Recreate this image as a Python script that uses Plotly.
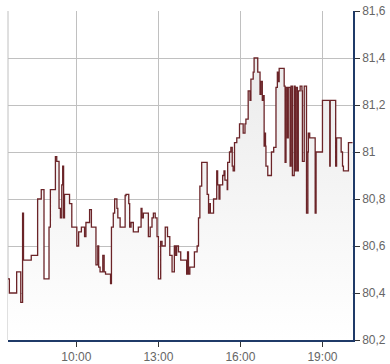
import plotly.graph_objects as go

day = "2024-01-02 "

times = ["07:30","07:33","07:49","07:58","08:02","08:04","08:21","08:35","08:43","08:49",
         "09:00","09:03","09:14","09:17","09:22","09:25","09:28","09:30","09:32","09:34",
         "09:45","09:50","10:01","10:05","10:11","10:18","10:21","10:29","10:33","10:43",
         "10:47","10:49","10:52","10:58","11:01","11:04","11:15","11:17","11:21","11:24",
         "11:29","11:31","11:36","11:47","11:49","11:55","11:57","12:00","12:05","12:16",
         "12:22","12:24","12:27","12:38","12:42","12:46","12:49","12:53","12:57","13:00",
         "13:05","13:08","13:15","13:20","13:25","13:30","13:35","13:38","13:40","13:44",
         "13:49","14:02","14:04","14:06","14:09","14:19","14:25","14:28","14:31","14:35",
         "14:47","14:50","14:53","14:54","15:01","15:08","15:10","15:13","15:15","15:21",
         "15:24","15:26","15:31","15:32","15:36","15:39","15:42","15:44","15:47","15:52",
         "15:58","16:06","16:10","16:12","16:17","16:21","16:23","16:28","16:30","16:38",
         "16:43","16:45","16:48","16:50","16:52","16:53","16:55","16:56","17:00","17:08",
         "17:13","17:18","17:21","17:23","17:25","17:36","17:38","17:40","17:43","17:45",
         "17:49","17:51","17:54","17:58","18:00","18:02","18:05","18:07","18:11","18:15",
         "18:16","18:20","18:25","18:28","18:29","18:32","18:44","18:46","19:00","19:16",
         "19:17","19:29","19:31","19:41","19:44","19:46","19:57","20:06"]

prices = [80.46,80.40,80.49,80.36,80.74,80.54,80.56,80.80,80.84,80.46,
          80.68,80.84,80.98,80.96,80.76,80.72,80.86,80.94,80.72,80.82,
          80.78,80.68,80.60,80.66,80.68,80.64,80.70,80.755,80.68,80.52,
          80.60,80.51,80.49,80.56,80.49,80.48,80.44,80.68,80.74,80.80,
          80.76,80.72,80.68,80.815,80.82,80.78,80.68,80.70,80.66,80.68,
          80.76,80.72,80.74,80.64,80.68,80.72,80.74,80.72,80.64,80.46,
          80.62,80.60,80.68,80.64,80.56,80.49,80.60,80.56,80.60,80.575,
          80.54,80.48,80.575,80.48,80.51,80.575,80.60,80.72,80.855,80.956,
          80.82,80.74,80.78,80.74,80.80,80.92,80.86,80.80,80.86,80.90,
          80.92,80.88,80.84,80.956,81.00,81.02,80.94,80.92,81.04,81.06,
          81.12,81.08,81.12,81.14,81.26,81.22,81.31,81.34,81.40,81.34,
          81.245,81.30,81.22,81.24,81.025,81.08,81.025,80.94,80.90,81.00,
          81.02,81.275,81.34,81.30,81.356,81.28,80.956,81.275,81.06,81.275,
          80.94,81.28,80.90,81.28,80.92,81.275,80.92,81.26,81.28,81.26,
          80.96,81.28,80.74,81.00,81.08,81.06,80.74,81.00,81.22,80.94,
          81.22,80.94,81.06,81.00,80.94,80.92,81.04,81.04]

x_ticks = ["10:00", "13:00", "16:00", "19:00"]
y_ticks = [80.2, 80.4, 80.6, 80.8, 81.0, 81.2, 81.4, 81.6]

xs = [day + t for t in times]

fig = go.Figure()
fig.add_trace(go.Scatter(
    x=xs, y=prices, mode="lines",
    line=dict(color="#6b2428", width=1.3, shape="hv"),
    fill="tozeroy",
    fillgradient=dict(type="vertical", start=80.2, stop=81.4,
                      colorscale=[[0, "#ffffff"], [1, "#ebebeb"]]),
    hoverinfo="skip", showlegend=False,
))

axis_blue = "#1f3a68"
fig.update_layout(
    width=390, height=364,
    margin=dict(l=8, r=37, t=11, b=24, autoexpand=False),
    paper_bgcolor="white", plot_bgcolor="white",
    separators=",.",
    font=dict(family="Liberation Sans, Arial, sans-serif", size=12, color="#666666"),
    xaxis=dict(
        type="date",
        range=[day + "07:30", day + "20:07"],
        tickvals=[day + t for t in x_ticks],
        ticktext=x_ticks,
        showgrid=True, gridcolor="#c0c0c0", gridwidth=1,
        showline=True, linecolor=axis_blue, linewidth=1.5,
        ticks="outside", ticklen=5, tickcolor="#333333",
        zeroline=False, fixedrange=True, automargin=False,
    ),
    yaxis=dict(
        side="right",
        range=[80.2, 81.6],
        tickvals=y_ticks,
        tickformat=".1~f",
        showgrid=True, gridcolor="#c0c0c0", gridwidth=1,
        showline=True, linecolor=axis_blue, linewidth=1.5,
        ticks="outside", ticklen=5, tickcolor="#333333",
        zeroline=False, fixedrange=True, automargin=False,
    ),
    shapes=[dict(type="line", xref="paper", yref="paper", x0=0, x1=0, y0=0, y1=1,
                 line=dict(color="#c0c0c0", width=1), layer="below")],
)

fig.write_html("out.html")
